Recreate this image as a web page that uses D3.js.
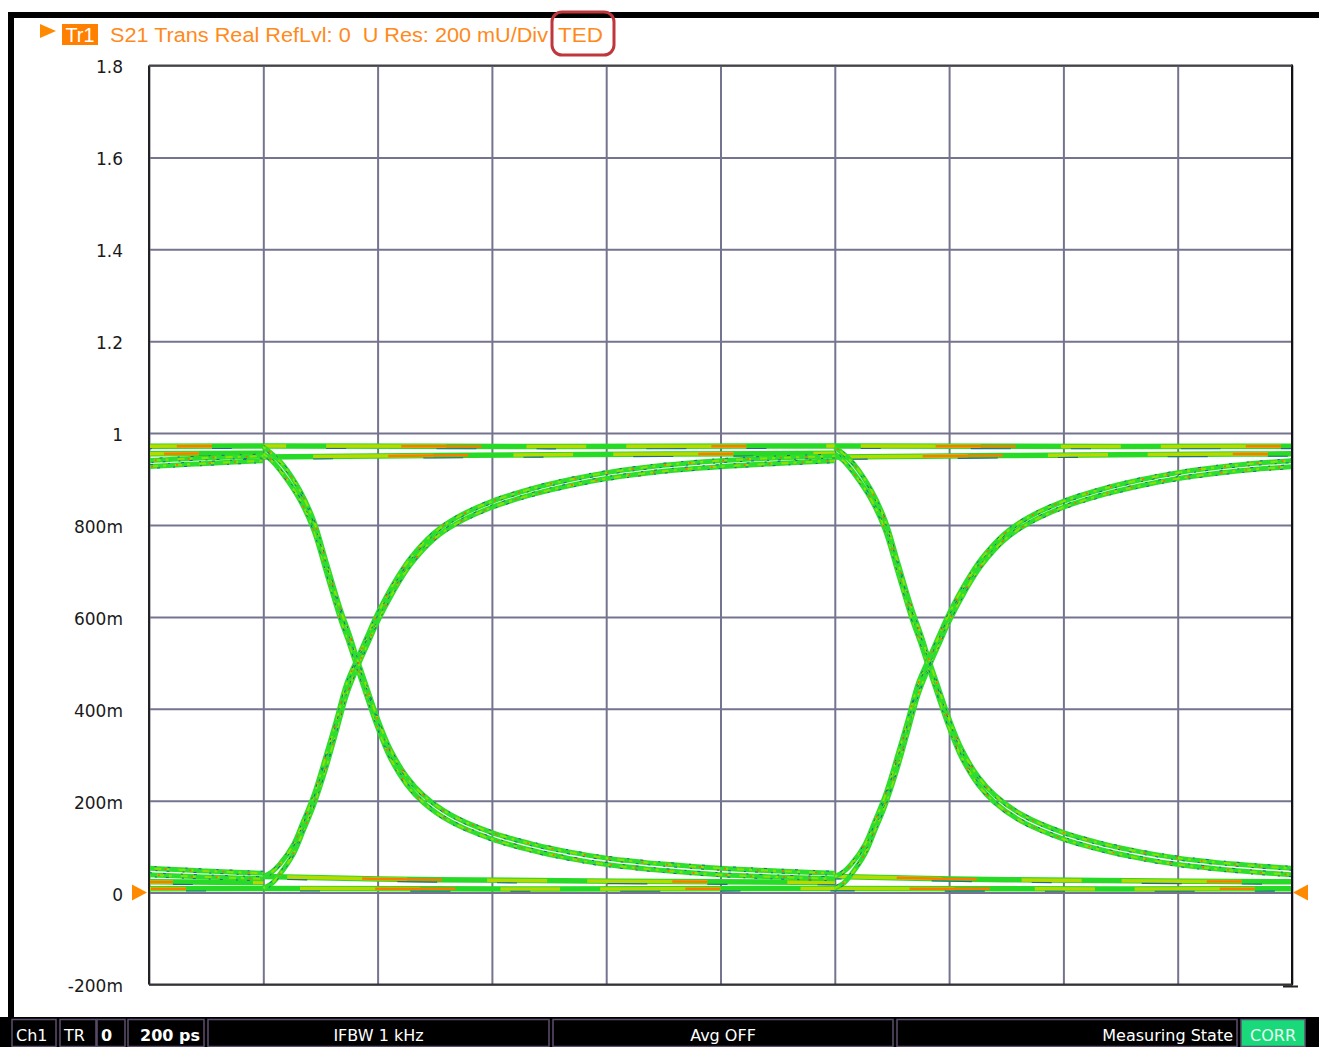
<!DOCTYPE html>
<html><head><meta charset="utf-8">
<script src="https://cdn.jsdelivr.net/npm/d3@7"></script>
<style>body{margin:0;background:#fff;} svg{display:block;}</style>
</head><body>
<svg id="c" width="1319" height="1047"></svg>
<script>
// ---------- data ----------
const yTickValues = [1.8, 1.6, 1.4, 1.2, 1, 0.8, 0.6, 0.4, 0.2, 0, -0.2];
const yTickLabels = ["1.8", "1.6", "1.4", "1.2", "1", "800m", "600m", "400m", "200m", "0", "-200m"];
const xTickValues = [0, 200, 400, 600, 800, 1000, 1200, 1400, 1600, 1800, 2000]; // ps
const uiStarts = [-800, 200, 1200]; // ps, start of each unit interval drawn
// UI-relative traces: [ps within UI, volts]
const riseA = [[0,0.035],[15,0.045],[29,0.062],[53,0.105],[70,0.155],[88,0.21],[108,0.29],[128,0.375],[146,0.455],[165,0.51],[181,0.555],[200,0.607],[228,0.672],[257,0.727],[298,0.782],[338,0.816],[399,0.851],[473,0.88],[537,0.899],[601,0.914],[700,0.93],[799,0.94],[900,0.946],[1000,0.95]];
const riseB = [[0,0.01],[15,0.02],[29,0.04],[53,0.085],[70,0.135],[88,0.19],[108,0.265],[128,0.352],[146,0.432],[165,0.492],[181,0.537],[200,0.59],[228,0.656],[257,0.713],[298,0.769],[338,0.803],[399,0.838],[473,0.867],[537,0.886],[601,0.901],[700,0.917],[799,0.927],[900,0.934],[1000,0.94]];
const fallA = [[0,0.97],[15,0.955],[35,0.93],[64,0.875],[88,0.81],[111,0.715],[134,0.62],[152,0.556],[165,0.505],[181,0.447],[200,0.378],[222,0.312],[251,0.252],[280,0.212],[327,0.17],[399,0.131],[473,0.105],[537,0.088],[601,0.075],[700,0.062],[799,0.053],[900,0.047],[1000,0.042]];
const fallB = [[0,0.955],[15,0.94],[35,0.91],[64,0.855],[88,0.79],[111,0.695],[134,0.6],[152,0.537],[165,0.487],[181,0.428],[200,0.36],[222,0.294],[251,0.235],[280,0.196],[327,0.155],[399,0.117],[473,0.091],[537,0.074],[601,0.061],[700,0.048],[799,0.039],[900,0.034],[1000,0.03]];
const highA = [[0,0.972],[500,0.971],[1000,0.972]];
const highB = [[0,0.948],[500,0.953],[1000,0.956]];
const lowA = [[0,0.009],[500,0.008],[1000,0.009]];
const lowB = [[0,0.035],[300,0.028],[1000,0.022]];

const headerText = "S21 Trans Real RefLvl: 0  U Res: 200 mU/Div";
const statusCells = [
  {x0: 12, x1: 56, label: "Ch1", align: "start", bold: false},
  {x0: 60, x1: 96, label: "TR", align: "start", bold: false},
  {x0: 97, x1: 125, label: "0", align: "start", bold: true},
  {x0: 128, x1: 204, label: "200 ps", align: "end", bold: true},
  {x0: 208, x1: 549, label: "IFBW 1 kHz", align: "middle", bold: false},
  {x0: 553, x1: 893, label: "Avg OFF", align: "middle", bold: false},
  {x0: 897, x1: 1237, label: "Measuring State", align: "end", bold: false},
  {x0: 1241, x1: 1305, label: "CORR", align: "middle", bold: false, fill: "#19d97a"}
];

// ---------- layout ----------
const svg = d3.select("#c");
const L = 149, R = 1292, T = 65.5, B = 984.5;
const x = d3.scaleLinear().domain([0, 2000]).range([L, R]);
const y = d3.scaleLinear().domain([-0.2, 1.8]).range([B, T]);

// frame
svg.append("rect").attr("x", 0).attr("y", 0).attr("width", 1319).attr("height", 1047).attr("fill", "#fff");
svg.append("rect").attr("x", 8).attr("y", 12).attr("width", 1311).attr("height", 6).attr("fill", "#000");
svg.append("rect").attr("x", 8).attr("y", 12).attr("width", 6).attr("height", 1010).attr("fill", "#000");

// grid
const gridColor = "#74748f";
const gy = svg.append("g").attr("transform", `translate(${L},0)`)
  .call(d3.axisLeft(y).tickValues(yTickValues).tickSize(-(R - L)).tickFormat(""));
gy.select(".domain").remove();
gy.selectAll("line").attr("stroke", gridColor).attr("stroke-width", 2);
const gx = svg.append("g").attr("transform", `translate(0,${B})`)
  .call(d3.axisBottom(x).tickValues(xTickValues).tickSize(-(B - T)).tickFormat(""));
gx.select(".domain").remove();
gx.selectAll("line").attr("stroke", gridColor).attr("stroke-width", 2);

// plot border
svg.append("line").attr("x1", L).attr("x2", L).attr("y1", T).attr("y2", B).attr("stroke", "#222").attr("stroke-width", 2);
svg.append("line").attr("x1", R).attr("x2", R).attr("y1", T - 1).attr("y2", B + 1).attr("stroke", "#111").attr("stroke-width", 2);
svg.append("line").attr("x1", L).attr("x2", R).attr("y1", T).attr("y2", T).attr("stroke", "#444").attr("stroke-width", 2);
svg.append("line").attr("x1", L).attr("x2", R).attr("y1", B).attr("y2", B).attr("stroke", "#333").attr("stroke-width", 2);
svg.append("line").attr("x1", R - 9).attr("x2", R + 6).attr("y1", B + 2).attr("y2", B + 2).attr("stroke", "#222").attr("stroke-width", 2);

// y labels
const ay = svg.append("g").attr("transform", `translate(123,2)`)
  .call(d3.axisLeft(y).tickValues(yTickValues).tickSize(0).tickPadding(0).tickFormat((d, i) => yTickLabels[i]));
ay.select(".domain").remove();
ay.selectAll("text").attr("font-family", "'DejaVu Sans', sans-serif").attr("font-size", 17).attr("fill", "#1a1a1a");

// traces
svg.append("clipPath").attr("id", "clip").append("rect")
  .attr("x", L + 1).attr("y", T + 1).attr("width", R - L - 2).attr("height", B - T - 2);
const plot = svg.append("g").attr("clip-path", "url(#clip)");
const line = d3.line().x(d => x(d[0])).y(d => y(d[1])).curve(d3.curveCatmullRom.alpha(0.5));

const flatLayers = [
  {c: "#26da26", w: 5.5},
  {c: "#b8d800", w: 3.5, dash: "60 40 120 80"},
  {c: "#ff7800", w: 2.5, dash: "35 140 80 230"},
  {c: "#1b6f86", w: 1.1, dash: "40 60 20 90", dy: 2.4}
];
const edgeLayers = [
  {c: "#2ede2e", w: 5},
  {c: "#8ee000", w: 2, dash: "7 5 3 9"},
  {c: "#1d6a92", w: 1, dash: "2 11 3 15", dy: -2},
  {c: "#1d6a92", w: 1, dash: "3 13 2 9", dy: 2},
  {c: "#ff6a00", w: 1.6, dash: "2 23 2 31"}
];

function drawTrace(data, layers, k) {
  uiStarts.forEach((t0, i) => {
    const pts = data.map(d => [d[0] + t0, d[1]]);
    layers.forEach(ly => {
      plot.append("path").attr("d", line(pts))
        .attr("fill", "none").attr("stroke", ly.c).attr("stroke-width", ly.w)
        .attr("stroke-dasharray", ly.dash || null)
        .attr("stroke-dashoffset", (i * 37 + k * 13))
        .attr("transform", ly.dy ? `translate(0,${ly.dy})` : null);
    });
  });
}
[highA, highB, lowA, lowB].forEach((d, k) => drawTrace(d, flatLayers, k));
[riseB, fallB, riseA, fallA].forEach((d, k) => drawTrace(d, edgeLayers, k));

// reference markers
const mk = "#ff8a00";
svg.append("path").attr("d", `M${L - 17},${y(0) - 8}L${L - 2},${y(0)}L${L - 17},${y(0) + 8}Z`).attr("fill", mk);
svg.append("path").attr("d", `M${R + 16},${y(0) - 8}L${R + 1},${y(0)}L${R + 16},${y(0) + 8}Z`).attr("fill", mk);

// header
svg.append("path").attr("d", "M40,24L56,31L40,38Z").attr("fill", mk);
svg.append("rect").attr("x", 62).attr("y", 24).attr("width", 36).attr("height", 21).attr("fill", "#ff8000");
svg.append("text").attr("x", 80).attr("y", 42).attr("text-anchor", "middle")
  .attr("font-family", "'Liberation Sans', sans-serif").attr("font-size", 20).attr("fill", "#fff")
  .attr("textLength", 29).attr("lengthAdjust", "spacingAndGlyphs").text("Tr1");
svg.append("text").attr("x", 110).attr("y", 42).style("white-space", "pre")
  .attr("font-family", "'Liberation Sans', sans-serif").attr("font-size", 20).attr("fill", "#ff8a1c")
  .attr("textLength", 438).attr("lengthAdjust", "spacingAndGlyphs").text(headerText);
svg.append("text").attr("x", 558).attr("y", 42)
  .attr("font-family", "'Liberation Sans', sans-serif").attr("font-size", 20).attr("fill", "#ff8a1c")
  .attr("textLength", 45).attr("lengthAdjust", "spacingAndGlyphs").text("TED");
svg.append("rect").attr("x", 552).attr("y", 12).attr("width", 62).attr("height", 43).attr("rx", 10)
  .attr("fill", "none").attr("stroke", "#c0363a").attr("stroke-width", 3);

// status bar
svg.append("rect").attr("x", 0).attr("y", 1017).attr("width", 1319).attr("height", 30).attr("fill", "#000");
const sc = svg.append("g");
statusCells.forEach(c => {
  sc.append("rect").attr("x", c.x0).attr("y", 1019.5).attr("width", c.x1 - c.x0).attr("height", 27)
    .attr("fill", c.fill || "#000").attr("stroke", "#5e4f6e").attr("stroke-width", 1.5);
  const tx = c.align === "start" ? c.x0 + 4 : c.align === "end" ? c.x1 - 4 : (c.x0 + c.x1) / 2;
  sc.append("text").attr("x", tx).attr("y", 1041).attr("text-anchor", c.align)
    .attr("font-family", "'DejaVu Sans', sans-serif").attr("font-size", 16)
    .attr("font-weight", c.bold ? "bold" : "normal")
    .attr("fill", c.fill ? "#e8fff0" : "#fff").text(c.label);
});
</script>
</body></html>
